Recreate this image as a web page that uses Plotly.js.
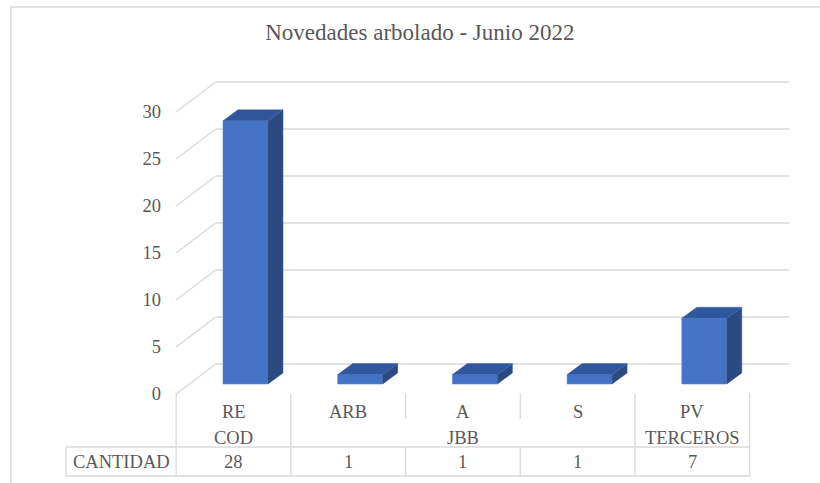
<!DOCTYPE html>
<html>
<head>
<meta charset="utf-8">
<script src="https://cdn.plot.ly/plotly-3.0.1.min.js"></script>
<style>html,body{margin:0;padding:0;background:#fff;}#chart{width:820px;height:483px;}</style>
</head>
<body>
<div id="chart"></div>
<script>
// ---- data ----
const categories = ['RE', 'ARB', 'A', 'S', 'PV'];
const groupLabels = ['COD', 'JBB', 'TERCEROS'];
const groupStart = [0, 1, 4];
const groupEnd = [0, 3, 4];
const seriesName = 'CANTIDAD';
const values = [28, 1, 1, 1, 7];
const yTicks = [0, 5, 10, 15, 20, 25, 30];
const titleText = 'Novedades arbolado - Junio 2022';

// ---- geometry (pixels -> axis units) ----
const W = 820, H = 483;
const M = {l: 10, r: 10, t: 60, b: 3};
const X0 = 245.5, XS = 114.7;   // bar-plane: category 0 center, px per category
const Y0 = 384, YS = 9.4;       // bar-plane: zero line, px per unit
const cx = p => (p - X0) / XS;
const vy = p => (Y0 - p) / YS;
const xr = [cx(M.l), cx(W - M.r)];
const yr = [vy(H - M.b), vy(M.t)];
const FX = -12 / XS, FY = -10 / YS;     // front plane offset
const BX = 27.5 / XS, BY = 20 / YS;     // back wall offset
const DX = 15 / XS, DY = 11 / YS;       // bar depth
const BW = 45 / XS;                     // bar width
const n = categories.length;

const grey = '#595959', lineC = '#d9d9d9';
const FONT = 'Liberation Serif';

const shapes = [];
// back wall gridlines and left wall diagonals
yTicks.forEach(t => {
  shapes.push({type: 'line', xref: 'x', yref: 'y', layer: 'below',
    x0: -0.5 + BX, x1: n - 0.5 + BX, y0: t + BY, y1: t + BY,
    line: {color: lineC, width: 1.3}});
  shapes.push({type: 'line', xref: 'x', yref: 'y', layer: 'below',
    x0: -0.5 + FX, x1: -0.5 + BX, y0: t + FY, y1: t + BY,
    line: {color: lineC, width: 1.3}});
});

// data table lines (front plane)
const yTop = vy(393), yShort = vy(419), yTabTop = vy(447), yTabBot = vy(476);
const xTabLeft = cx(66);
const groupBoundary = new Set();
groupStart.forEach(s => groupBoundary.add(s));
groupEnd.forEach(e => groupBoundary.add(e + 1));
for (let i = 0; i <= n; i++) {
  const xb = i - 0.5 + FX;
  if (groupBoundary.has(i)) {
    shapes.push({type: 'line', xref: 'x', yref: 'y', x0: xb, x1: xb, y0: yTop, y1: yTabBot,
      line: {color: lineC, width: 1.3}});
  } else {
    shapes.push({type: 'line', xref: 'x', yref: 'y', x0: xb, x1: xb, y0: yTop, y1: yShort,
      line: {color: lineC, width: 1.3}});
    shapes.push({type: 'line', xref: 'x', yref: 'y', x0: xb, x1: xb, y0: yTabTop, y1: yTabBot,
      line: {color: lineC, width: 1.3}});
  }
}
shapes.push({type: 'line', xref: 'x', yref: 'y', x0: xTabLeft, x1: xTabLeft, y0: yTabTop, y1: yTabBot,
  line: {color: lineC, width: 1.3}});
[yTabTop, yTabBot].forEach(yy => shapes.push({type: 'line', xref: 'x', yref: 'y',
  x0: xTabLeft, x1: n - 0.5 + FX, y0: yy, y1: yy, line: {color: lineC, width: 1.3}}));

// chart border
shapes.push({type: 'rect', xref: 'paper', yref: 'paper',
  x0: (11 - M.l) / (W - M.l - M.r), x1: 1.2,
  y0: -0.2, y1: (H - M.b - 7) / (H - M.t - M.b),
  line: {color: lineC, width: 1.5}, fillcolor: 'rgba(0,0,0,0)'});

// table text
const annotations = [];
const rowY1 = vy(411.5), rowY2 = vy(438), rowY3 = vy(461.5);
const tf = {family: FONT, size: 18.5, color: grey};
categories.forEach((c, i) => {
  annotations.push({x: i + FX, y: rowY1, xref: 'x', yref: 'y', text: c, showarrow: false, font: tf});
  annotations.push({x: i + FX, y: rowY3, xref: 'x', yref: 'y', text: String(values[i]), showarrow: false, font: tf});
});
groupLabels.forEach((g, k) => {
  annotations.push({x: (groupStart[k] + groupEnd[k]) / 2 + FX, y: rowY2, xref: 'x', yref: 'y',
    text: g, showarrow: false, font: tf});
});
annotations.push({x: (xTabLeft + (-0.5 + FX)) / 2, y: rowY3, xref: 'x', yref: 'y',
  text: seriesName, showarrow: false, font: tf});

// bar 3D faces
const sideX = [], sideY = [], topX = [], topY = [];
values.forEach((v, i) => {
  const xl = i - BW / 2, xrr = i + BW / 2;
  sideX.push(xrr, xrr, xrr + DX, xrr + DX, xrr, null);
  sideY.push(0, v, v + DY, DY, 0, null);
  topX.push(xl, xrr, xrr + DX, xl + DX, xl, null);
  topY.push(v, v, v + DY, v + DY, v, null);
});

const xIdx = categories.map((c, i) => i);
const traces = [
  {type: 'bar', x: xIdx, y: values, width: BW, name: seriesName,
   marker: {color: '#4472C4', line: {color: '#5b86d2', width: 0.6}}, hoverinfo: 'skip'},
  {type: 'scatter', x: sideX, y: sideY, mode: 'lines', fill: 'toself', fillcolor: '#2B4A81',
   line: {color: '#3a5a92', width: 0.5}, hoverinfo: 'skip', showlegend: false},
  {type: 'scatter', x: topX, y: topY, mode: 'lines', fill: 'toself', fillcolor: '#30579B',
   line: {color: '#3f66aa', width: 0.5}, hoverinfo: 'skip', showlegend: false},
  {type: 'scatter', x: [0], y: [0], yaxis: 'y2', mode: 'markers', marker: {opacity: 0},
   hoverinfo: 'skip', showlegend: false}
];

const layout = {
  width: W, height: H,
  margin: M,
  paper_bgcolor: '#fff', plot_bgcolor: 'rgba(0,0,0,0)',
  showlegend: false,
  title: {text: titleText, font: {family: FONT, size: 23, color: grey},
          x: 0.512, xanchor: 'center', y: 1 - 32 / H, yanchor: 'middle'},
  xaxis: {range: xr, visible: false, fixedrange: true},
  yaxis: {range: yr, visible: false, fixedrange: true},
  yaxis2: {range: [yr[0] - FY, yr[1] - FY], overlaying: 'y', anchor: 'free', side: 'left',
           position: (161 - M.l) / (W - M.l - M.r),
           tickvals: yTicks, ticktext: yTicks.map(String), ticks: '',
           showgrid: false, zeroline: false, showline: false,
           tickfont: {family: FONT, size: 18.5, color: grey}, fixedrange: true},
  shapes: shapes,
  annotations: annotations
};

Plotly.newPlot('chart', traces, layout, {displayModeBar: false, staticPlot: true});
</script>
</body>
</html>
